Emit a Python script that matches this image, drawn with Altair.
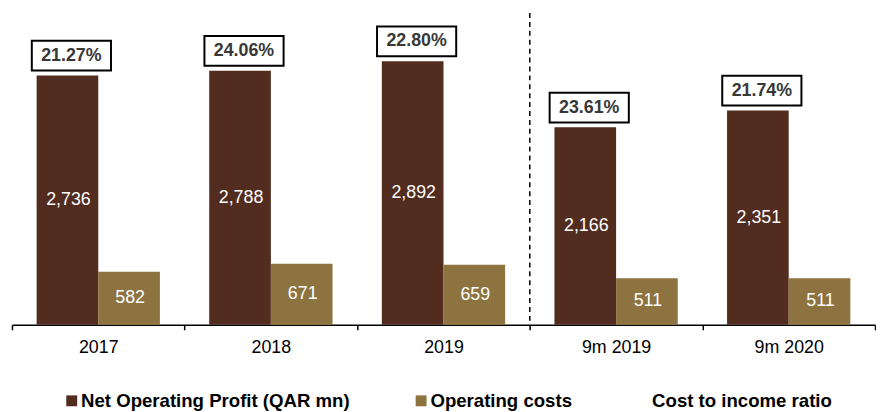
import altair as alt
import pandas as pd

categories = ["2017", "2018", "2019", "9m 2019", "9m 2020"]
net_operating_profit = [2736, 2788, 2892, 2166, 2351]
operating_costs = [582, 671, 659, 511, 511]
cost_to_income = ["21.27%", "24.06%", "22.80%", "23.61%", "21.74%"]
series_names = ["Net Operating Profit (QAR mn)", "Operating costs", "Cost to income ratio"]
series_colors = ["#512C1F", "#8C733F", "#FFFFFF"]
divider_at = ["9m 2019"]

rows = []
for c, n, o in zip(categories, net_operating_profit, operating_costs):
    rows.append({"cat": c, "series": series_names[0], "value": n, "label": f"{n:,}"})
    rows.append({"cat": c, "series": series_names[1], "value": o, "label": f"{o:,}"})
bars_df = pd.DataFrame(rows)
ratio_df = pd.DataFrame({"cat": categories, "series": series_names[0],
                         "value": net_operating_profit, "ratio": cost_to_income})
div_df = pd.DataFrame({"cat": divider_at})

W, H = 872, 315
FONT = "Liberation Sans, Arial"

x = alt.X("cat:N", sort=categories,
          scale=alt.Scale(paddingInner=0, paddingOuter=0),
          axis=alt.Axis(title=None, labelAngle=0, labelAlign="center", labelBaseline="top",
                        tickBand="extent",
                        domainColor="black", domainWidth=1.5, tickColor="black",
                        tickWidth=1.5, tickSize=5, labelFontSize=18, labelColor="black",
                        labelFont=FONT, labelPadding=9, grid=False))
xoff = alt.XOffset("series:N", sort=series_names[:2],
                   scale=alt.Scale(domain=series_names[:2], paddingInner=0, paddingOuter=0.4))
y_scale = alt.Scale(domain=[0, 3420], nice=False)

bars = alt.Chart(bars_df).mark_bar().encode(
    x=x, xOffset=xoff,
    y=alt.Y("value:Q", scale=y_scale, axis=None),
    color=alt.Color("series:N",
                    scale=alt.Scale(domain=series_names, range=series_colors),
                    legend=alt.Legend(title=None, orient="none", legendX=51, legendY=382,
                                      direction="horizontal", symbolType="square",
                                      symbolSize=121, symbolStrokeWidth=0,
                                      labelFontSize=18.8, labelFontWeight="bold",
                                      labelFont=FONT, labelColor="black",
                                      columnPadding=62, labelOffset=0, labelLimit=500)),
)

bar_labels = alt.Chart(bars_df).transform_calculate(mid="datum.value / 2").mark_text(
    color="white", fontSize=18, font=FONT, baseline="middle", dx=1
).encode(
    x=x, xOffset=xoff,
    y=alt.Y("mid:Q", scale=y_scale, axis=None),
    text="label:N",
)

box_path = "M-0.9,-0.875L1.1,-0.875L1.1,-0.125L-0.9,-0.125Z"
boxes = alt.Chart(ratio_df).mark_point(
    shape=box_path, size=6400, filled=False, color="black", stroke="black",
    strokeWidth=2, opacity=1, fill="white", fillOpacity=1
).encode(
    x=x, xOffset=xoff,
    y=alt.Y("value:Q", scale=y_scale, axis=None),
)

ratio_text = alt.Chart(ratio_df).mark_text(
    dy=-20, dx=4, fontSize=18, fontWeight="bold", color="#383838",
    font=FONT, baseline="middle"
).encode(
    x=x, xOffset=xoff,
    y=alt.Y("value:Q", scale=y_scale, axis=None),
    text="ratio:N",
)

divider = alt.Chart(div_df).mark_rule(
    color="black", strokeWidth=1.5, strokeDash=[5, 4]
).encode(
    x=alt.X("cat:N", sort=categories, bandPosition=0),
    y=alt.value(0), y2=alt.value(H),
)

chart = alt.layer(divider, bars, bar_labels, boxes, ratio_text).properties(
    width=W, height=H,
    padding={"left": 3, "top": 2, "right": 0, "bottom": 0},
).configure_view(stroke=None)

chart.save("out.html", embed_options={"renderer": "svg", "actions": False})
